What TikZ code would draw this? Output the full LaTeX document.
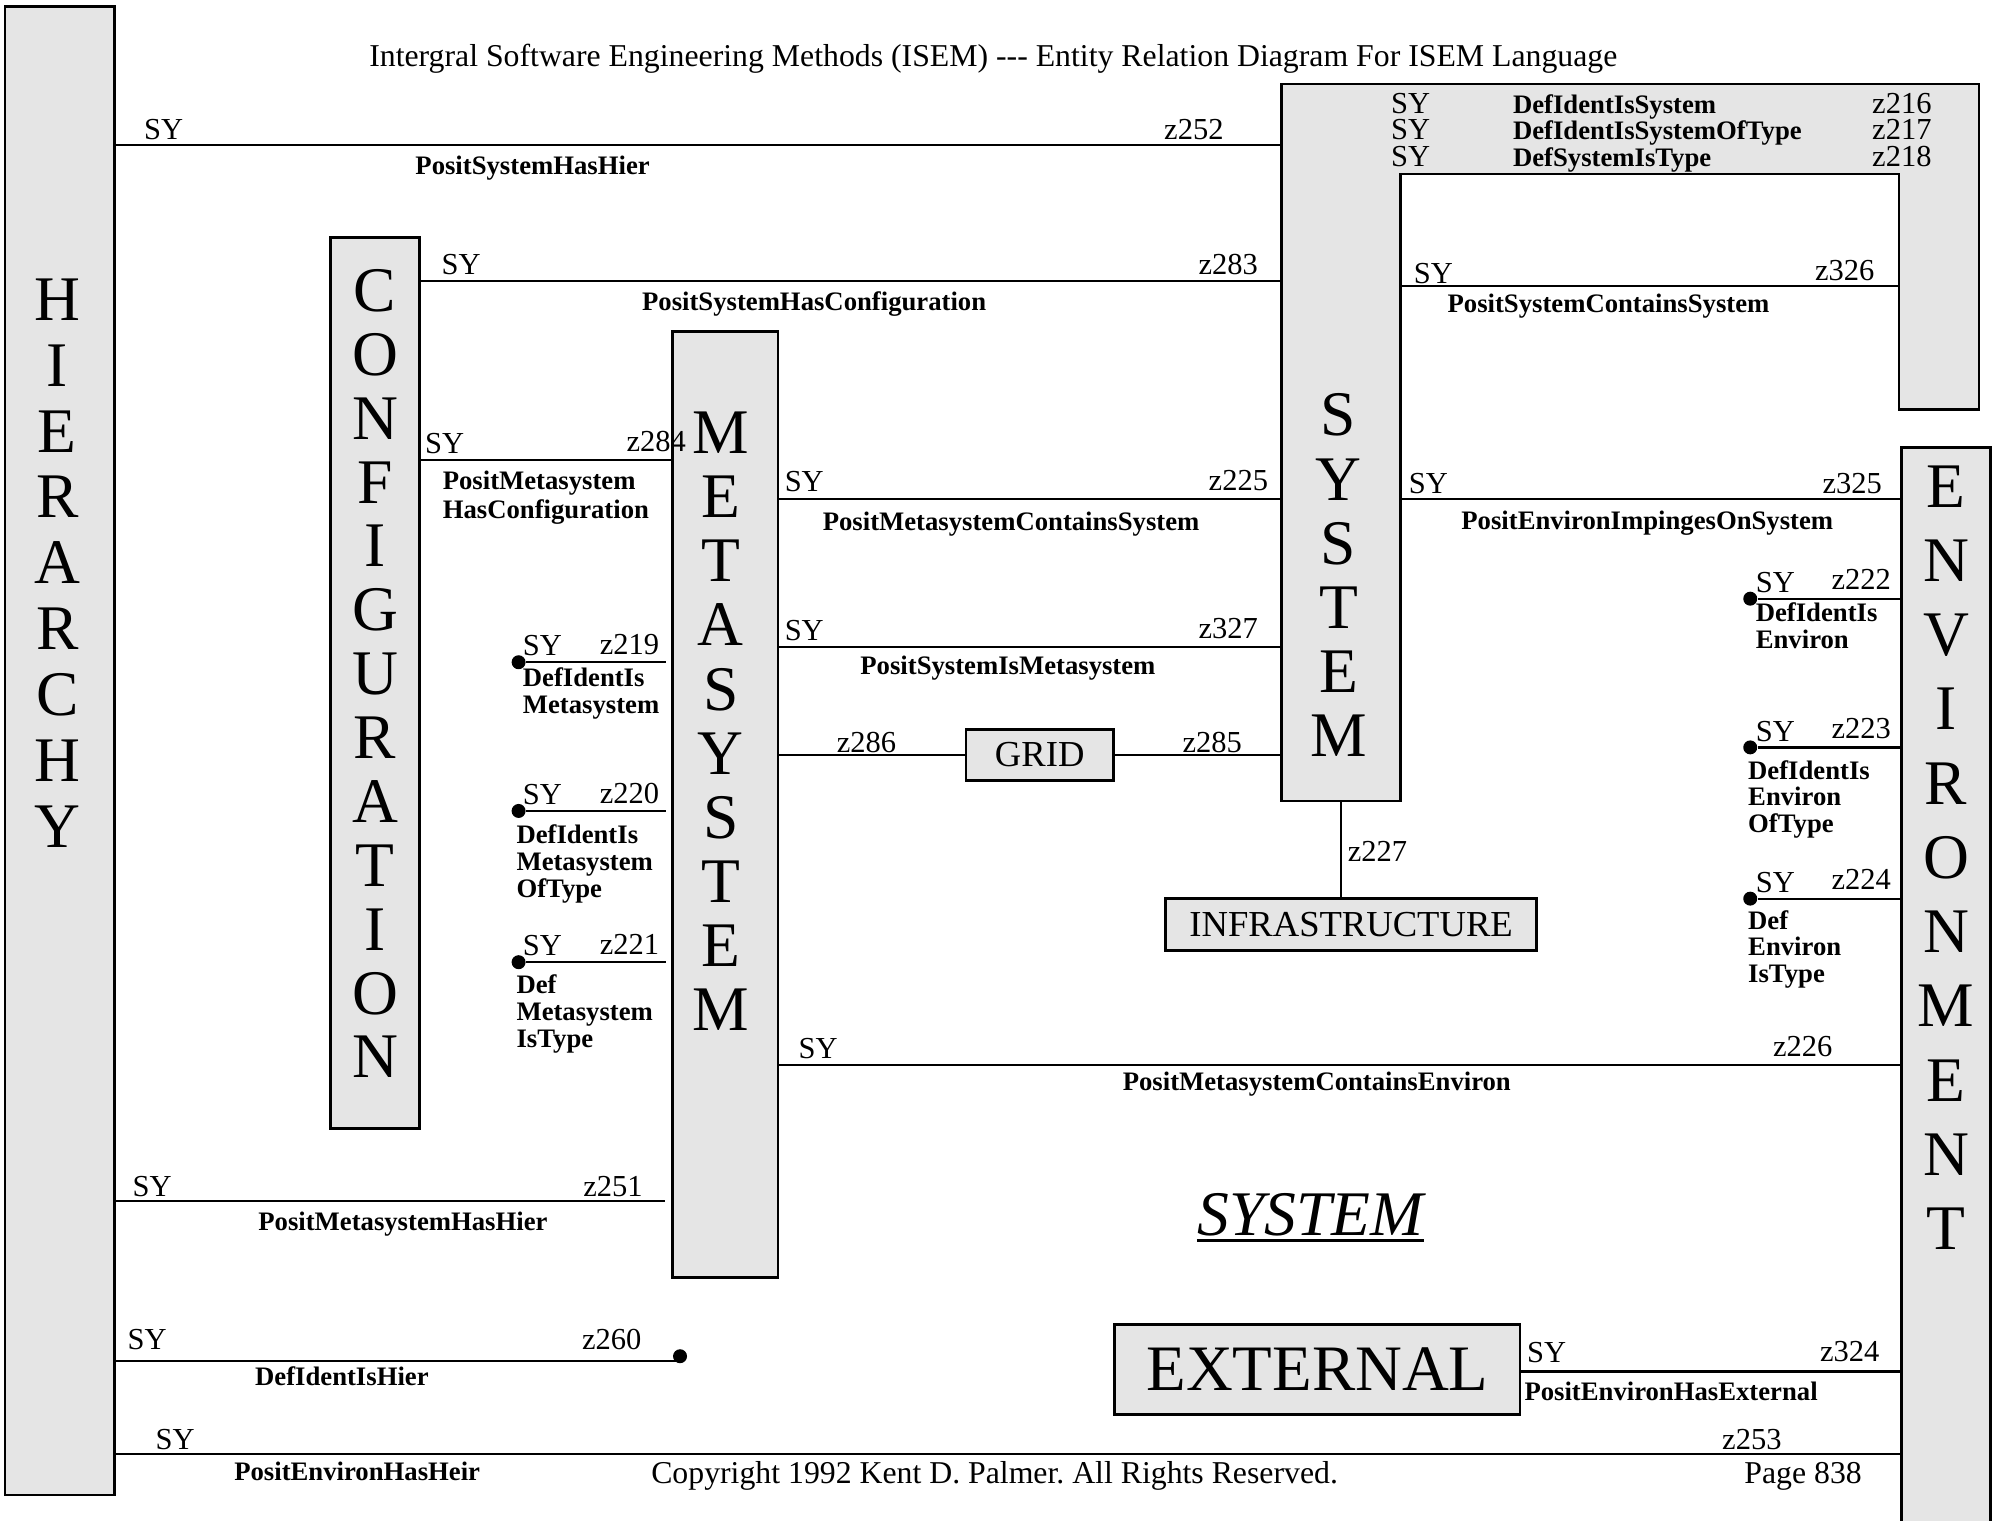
\documentclass[tikz,border=0pt]{standalone}
\usepackage{fontspec}
\setmainfont{Liberation Serif}
\usetikzlibrary{fit}
\definecolor{entitygray}{HTML}{E5E5E5}
\tikzset{
  entity/.style={draw,line width=1pt,fill=entitygray,inner sep=0pt},
  rel/.style={line width=0.9pt},
  bigletter/.style={font=\fontsize{25}{30}\selectfont,anchor=base,inner sep=0pt},
  card/.style={font=\fontsize{12}{14}\selectfont,anchor=base west,inner sep=0pt},
  zcard/.style={card,anchor=base east},
  pagetext/.style={font=\fontsize{12.5}{14}\selectfont,anchor=base west,inner sep=0pt},
  relname/.style={font=\fontsize{10.5}{10.5}\selectfont\bfseries,anchor=base,inner sep=0pt},
  relnote/.style={relname,anchor=base west,align=left},
  enddot/.style={circle,fill,inner sep=0pt,minimum size=5.5pt}
}
\begin{document}
\frenchspacing
\begin{tikzpicture}[x=0.5pt,y=-0.5pt]
\useasboundingbox (0,0) rectangle (1568,1196);

\node[pagetext,anchor=base] (title) at (781.5,52) {Intergral Software Engineering Methods (ISEM) -{}-{}- Entity Relation Diagram For ISEM Language};

% entities
\node[entity,fit={(4,5) (90,1176)}] (hier) {};
\node[entity,fit={(260,187) (330,888)}] (config) {};
\node[entity,fit={(529,261) (612,1005)}] (meta) {};
\node[entity,fit={(1496,352) (1566,1220)}] (env) {};
\draw[entity] (1008,66) -- (1557,66) -- (1557,322) -- (1494,322) -- (1494,137)
  -- (1102,137) -- (1102,630) -- (1008,630) -- cycle;
\node[fit={(1008,66) (1102,630)},inner sep=0pt] (sys) {};
\coordinate (hook) at (1494,137);
\node[entity,minimum width=58pt,minimum height=20pt,font=\fontsize{14.4}{16}\selectfont] (grid) at (818,594) {GRID};
\node[entity,minimum width=146pt,minimum height=20.5pt,font=\fontsize{14.4}{16}\selectfont] (infra) at (1063,727.5) {INFRASTRUCTURE};
\node[entity,minimum width=159.5pt,minimum height=35.5pt,font=\fontsize{25.5}{30}\selectfont] (ext) at (1036.5,1077.5) {EXTERNAL};

\foreach \ch [count=\i from 0] in {H,I,E,R,A,R,C,H,Y}
  \node[bigletter] (hier-\i) at (45,252+51.8*\i) {\ch};
\foreach \ch [count=\i from 0] in {C,O,N,F,I,G,U,R,A,T,I,O,N}
  \node[bigletter] (config-\i) at (295,245+50.25*\i) {\ch};
\foreach \ch [count=\i from 0] in {M,E,T,A,S,Y,S,T,E,M}
  \node[bigletter] (meta-\i) at (567,357+50.4*\i) {\ch};
\foreach \ch [count=\i from 0] in {S,Y,S,T,E,M}
  \node[bigletter] (sys-\i) at (1053,343+50.5*\i) {\ch};
\foreach \ch [count=\i from 0] in {E,N,V,I,R,O,N,M,E,N,T}
  \node[bigletter] (env-\i) at (1531,399+58.4*\i) {\ch};

% z252
\draw[rel] (hier.east |- 0,114) -- (sys.west |- 0,114);
\node[card] (s252) at (113,110) {SY};
\node[zcard] (z252) at (963,110) {z252};
\node[relname] (n252) at (419,137) {PositSystemHasHier};

% z283
\draw[rel] (config.east |- 0,221) -- (sys.west |- 0,221);
\node[card] (s283) at (347,216) {SY};
\node[zcard] (z283) at (990,216) {z283};
\node[relname] (n283) at (640.5,244) {PositSystemHasConfiguration};

% z284
\draw[rel] (config.east |- 0,362) -- (meta.west |- 0,362);
\node[card] (s284) at (334,357) {SY};
\node[zcard] (z284) at (540,355) {z284};
\node[relnote] (n284) at (348,408) {PositMetasystem\\[1pt]HasConfiguration};

% z225
\draw[rel] (meta.east |- 0,392.5) -- (sys.west |- 0,392.5);
\node[card] (s225) at (617,387) {SY};
\node[zcard] (z225) at (998,386) {z225};
\node[relname] (n225) at (795.5,417) {PositMetasystemContainsSystem};

% z327
\draw[rel] (meta.east |- 0,509) -- (sys.west |- 0,509);
\node[card] (s327) at (617,504) {SY};
\node[zcard] (z327) at (990,502) {z327};
\node[relname] (n327) at (793,531) {PositSystemIsMetasystem};

% z286 / z285
\draw[rel] (meta.east |- grid.west) -- (grid.west);
\draw[rel] (grid.east) -- (sys.west |- grid.east);
\node[card] (z286) at (658,592) {z286};
\node[card] (z285) at (930,592) {z285};

% z227
\draw[rel] (sys.south) -- (sys.south |- infra.north);
\node[card] (z227) at (1060,678) {z227};

% z325
\draw[rel] (sys.east |- 0,392.5) -- (env.west |- 0,392.5);
\node[card] (s325) at (1108,388) {SY};
\node[zcard] (z325) at (1481,388) {z325};
\node[relname] (n325) at (1296,416.5) {PositEnvironImpingesOnSystem};

% z326
\draw[rel] (sys.east |- 0,225) -- (hook |- 0,225);
\node[card] (s326) at (1112,223) {SY};
\node[zcard] (z326) at (1475,221) {z326};
\node[relname] (n326) at (1265.5,245.5) {PositSystemContainsSystem};

\foreach \y/\rn/\z in {89/DefIdentIsSystem/216,110/DefIdentIsSystemOfType/217,131/DefSystemIsType/218}{
  \node[card] (s\z) at (1094,\y) {SY};
  \node[relname,anchor=base west] (n\z) at (1190,\y) {\rn};
  \node[zcard] (z\z) at (1520,\y) {z\z};
}

\foreach \z/\y/\ly/\lx/\rn in {219/521/561/411/{DefIdentIs\\Metasystem},220/638/706/406/{DefIdentIs\\Metasystem\\OfType},221/757/824/406/{Def\\Metasystem\\IsType}}{
  \node[enddot] (d\z) at (408,\y) {};
  \draw[rel,shorten >=2pt] (d\z) -- (meta.west |- d\z);
  \node[card] (s\z) at (411,\y-5) {SY};
  \node[zcard] (z\z) at (519,\y-6) {z\z};
  \node[relnote] (n\z) at (\lx,\ly) {\rn};
}

\foreach \z/\y/\ly/\lx/\rn in {222/471/510/1381/{DefIdentIs\\Environ},223/588/655/1375/{DefIdentIs\\Environ\\OfType},224/707/773/1375/{Def\\Environ\\IsType}}{
  \node[enddot] (d\z) at (1377,\y) {};
  \draw[rel] (d\z) -- (env.west |- d\z);
  \node[card] (s\z) at (1381,\y-5) {SY};
  \node[zcard] (z\z) at (1488,\y-7) {z\z};
  \node[relnote] (n\z) at (\lx,\ly) {\rn};
}

% z226
\draw[rel] (meta.east |- 0,838) -- (env.west |- 0,838);
\node[card] (s226) at (628,833) {SY};
\node[zcard] (z226) at (1442,831) {z226};
\node[relname] (n226) at (1036,858) {PositMetasystemContainsEnviron};

% z251
\draw[rel,shorten >=2.5pt] (hier.east |- 0,945) -- (meta.west |- 0,945);
\node[card] (s251) at (104,941) {SY};
\node[zcard] (z251) at (506,941) {z251};
\node[relname] (n251) at (317,968) {PositMetasystemHasHier};

% z260
\node[enddot] (dhier) at (535,1067) {};
\draw[rel] (hier.east |- 0,1071) -- (dhier |- 0,1071);
\node[card] (s260) at (100,1062) {SY};
\node[zcard] (z260) at (505,1062) {z260};
\node[relname] (n260) at (269,1090) {DefIdentIsHier};

% z253
\draw[rel] (hier.east |- 0,1144) -- (env.west |- 0,1144);
\node[card] (s253) at (122,1140) {SY};
\node[zcard] (z253) at (1402,1140) {z253};
\node[relname] (n253) at (281,1165) {PositEnvironHasHeir};

% z324
\draw[rel] (ext.east |- 0,1079) -- (env.west |- 0,1079);
\node[card] (s324) at (1201,1072) {SY};
\node[zcard] (z324) at (1479,1071) {z324};
\node[relname,anchor=base west] (n324) at (1199,1101.5) {PositEnvironHasExternal};

\node[font=\fontsize{25}{30}\selectfont\itshape,anchor=base,inner sep=0pt] (sysword) at (1031,972) {SYSTEM};
\draw[line width=1pt] ([yshift=-2pt]sysword.base west) -- ([yshift=-2pt]sysword.base east);

\node[pagetext] (copy) at (512,1167) {Copyright 1992 Kent D. Palmer. All Rights Reserved.};
\node[pagetext] (page) at (1372,1167) {Page 838};
\end{tikzpicture}
\end{document}
